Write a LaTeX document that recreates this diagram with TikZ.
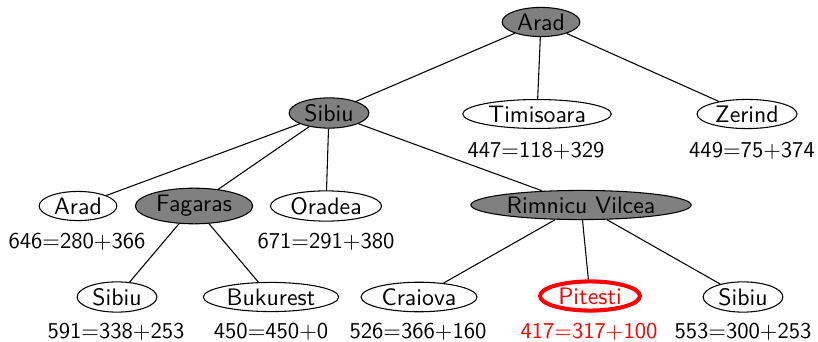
\documentclass[tikz,border=0pt]{standalone}
\usetikzlibrary{shapes.geometric}
\begin{document}
\begin{tikzpicture}[x=0.42pt,y=-0.42pt,font=\sffamily,
  city/.style={ellipse,draw,line width=0.45pt,inner xsep=1.5pt,inner ysep=0.8pt},
  expd/.style={city,fill=black!50},
  goal/.style={city,draw=red,text=red,line width=1.7pt},
  cost/.style={inner sep=0pt,font=\sffamily\fontsize{9.5}{11}\selectfont},
  edge/.style={line width=0.45pt}]
\useasboundingbox (0,0) rectangle (818,342);
% level 0
\node[expd] (a0) at (541,22) {Arad};
% level 1
\node[expd] (s1) at (329,113) {Sibiu};
\node[city] (t1) at (537,114) {Timisoara};
\node[city] (z1) at (747,114) {Zerind};
\node[cost] (lt1) at (536,151) {447=118+329};
\node[cost] (lz1) at (752,151) {449=75+374};
% level 2
\node[city] (a2) at (78,206) {Arad};
\node[expd] (f2) at (194,206) {Fagaras};
\node[city] (o2) at (326,206) {Oradea};
\node[expd] (r2) at (581,205) {Rimnicu Vilcea};
\node[cost] (la2) at (77,242) {646=280+366};
\node[cost] (lo2) at (326,242) {671=291+380};
% level 3
\node[city] (s3) at (117,297) {Sibiu};
\node[city] (b3) at (271,297) {Bukurest};
\node[city] (c3) at (419,297) {Craiova};
\node[goal] (p3) at (590,296) {Pitesti};
\node[city] (sr3) at (743,297) {Sibiu};
\node[cost] (ls3) at (116,332) {591=338+253};
\node[cost] (lb3) at (271,332) {450=450+0};
\node[cost] (lc3) at (418,332) {526=366+160};
\node[cost,text=red] (lp3) at (589,332) {417=317+100};
\node[cost] (lsr3) at (743,332) {553=300+253};
% edges
\draw[edge] (a0) -- (s1);
\draw[edge] (a0) -- (t1);
\draw[edge] (a0) -- (z1);
\draw[edge] (s1) -- (a2);
\draw[edge] (s1) -- (f2);
\draw[edge] (s1) -- (o2);
\draw[edge] (s1) -- (r2);
\draw[edge] (f2) -- (s3);
\draw[edge] (f2) -- (b3);
\draw[edge] (r2) -- (c3);
\draw[edge] (r2) -- (p3);
\draw[edge] (r2) -- (sr3);
\end{tikzpicture}
\end{document}
